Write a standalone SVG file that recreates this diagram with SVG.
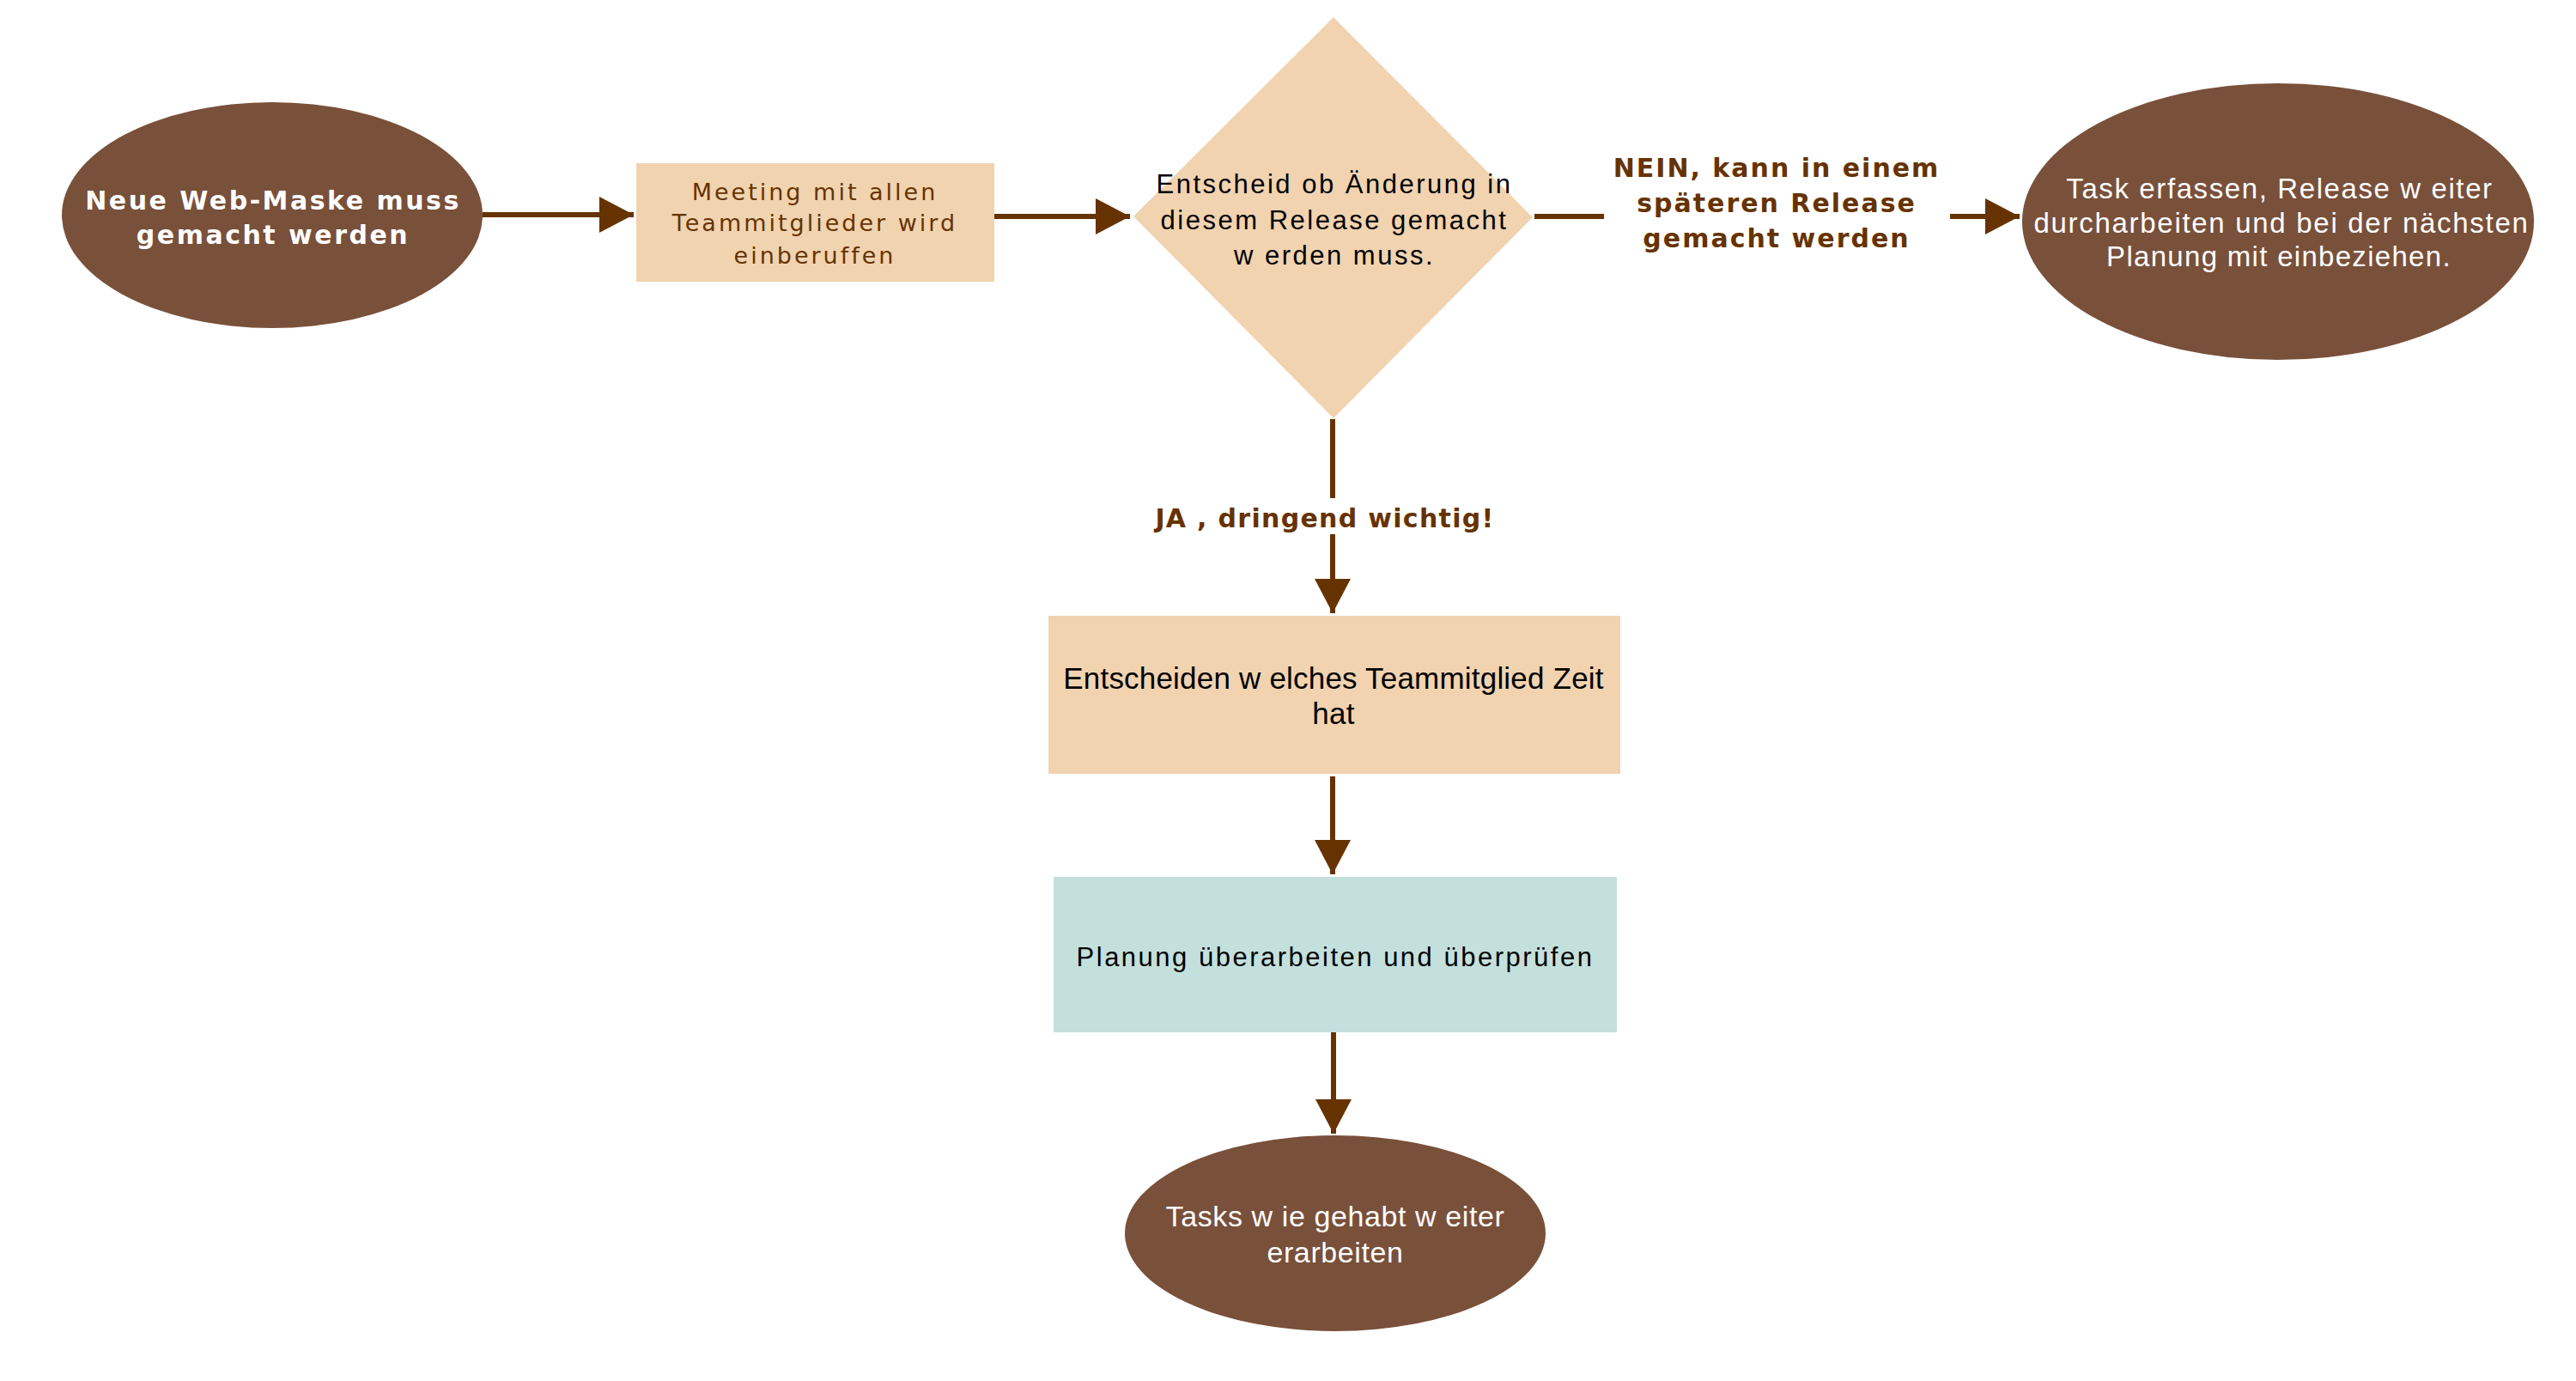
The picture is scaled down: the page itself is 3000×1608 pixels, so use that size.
<svg xmlns="http://www.w3.org/2000/svg" width="3000" height="1608" viewBox="0 0 3000 1608">
<style>
.term{fill:#79503A;}
.proc{fill:#F1D3B0;}
.plan{fill:#C4E0DC;}
.conn{stroke:#663300;stroke-width:6;fill:none;}
.lbl{font-family:"DejaVu Sans",Verdana,sans-serif;font-weight:bold;font-size:30px;fill:#663300;text-anchor:middle;letter-spacing:2px;}
.wb{font-family:"DejaVu Sans",Verdana,sans-serif;font-weight:bold;font-size:30px;fill:#FFFFFF;text-anchor:middle;letter-spacing:2.5px;}
.ar{font-family:"Liberation Sans",Arial,sans-serif;text-anchor:middle;}
</style>
<defs>
<marker id="ah" markerUnits="userSpaceOnUse" markerWidth="40" markerHeight="42" refX="40" refY="21" orient="auto">
<path d="M0,0 L40,21 L0,42 Z" fill="#663300"/>
</marker>
</defs>
<rect x="0" y="0" width="3000" height="1608" fill="#FFFFFF"/>
<g id="connectors">
<path class="conn" d="M562,250 H738" marker-end="url(#ah)"/>
<path class="conn" d="M1158,252 H1316" marker-end="url(#ah)"/>
<path class="conn" d="M1787,252 H1868 M2271,252 H2352" marker-end="url(#ah)"/>
<path class="conn" d="M1552,488 V580 M1552,622 V714" marker-end="url(#ah)"/>
<path class="conn" d="M1552,904 V1018" marker-end="url(#ah)"/>
<path class="conn" d="M1553,1202 V1320" marker-end="url(#ah)"/>
<text class="lbl" x="2069" y="206">NEIN, kann in einem</text>
<text class="lbl" x="2069" y="247">späteren Release</text>
<text class="lbl" x="2069" y="288">gemacht werden</text>
<text class="lbl" x="1543" y="614" style="letter-spacing:1.3px">JA , dringend wichtig!</text>
</g>
<g id="start">
<ellipse class="term" cx="317" cy="250.5" rx="245" ry="131.5"/>
<text class="wb" x="318" y="244">Neue Web-Maske muss</text>
<text class="wb" x="318" y="284">gemacht werden</text>
</g>
<g id="meeting">
<rect class="proc" x="741" y="190" width="417" height="138"/>
<text x="949" y="233" style="font-family:'DejaVu Sans',Verdana,sans-serif;font-size:27px;fill:#663300;text-anchor:middle;letter-spacing:3px">Meeting mit allen</text>
<text x="949" y="269" style="font-family:'DejaVu Sans',Verdana,sans-serif;font-size:27px;fill:#663300;text-anchor:middle;letter-spacing:3px">Teammitglieder wird</text>
<text x="949" y="307" style="font-family:'DejaVu Sans',Verdana,sans-serif;font-size:27px;fill:#663300;text-anchor:middle;letter-spacing:3px">einberuffen</text>
</g>
<g id="decision">
<polygon class="proc" points="1553,20 1785,253 1553,487 1320,252"/>
<text class="ar" x="1554" y="225" style="font-size:31px;letter-spacing:2.5px;fill:#000">Entscheid ob Änderung in</text>
<text class="ar" x="1554" y="267" style="font-size:31px;letter-spacing:2.5px;fill:#000">diesem Release gemacht</text>
<text class="ar" x="1554" y="308" style="font-size:31px;letter-spacing:2.5px;fill:#000">w erden muss.</text>
</g>
<g id="later">
<ellipse class="term" cx="2653" cy="258" rx="298" ry="161"/>
<text class="ar" x="2655" y="231" style="font-size:33px;letter-spacing:1.6px;fill:#FFF">Task erfassen, Release w eiter</text>
<text class="ar" x="2657" y="271" style="font-size:33px;letter-spacing:1.7px;fill:#FFF">durcharbeiten und bei der nächsten</text>
<text class="ar" x="2654" y="310" style="font-size:33px;letter-spacing:1.3px;fill:#FFF">Planung mit einbeziehen.</text>
</g>
<g id="choose">
<rect class="proc" x="1221" y="717" width="666" height="184"/>
<text class="ar" x="1553" y="802" style="font-size:35px;letter-spacing:0.2px;fill:#000">Entscheiden w elches Teammitglied Zeit</text>
<text class="ar" x="1553" y="843" style="font-size:35px;letter-spacing:0.2px;fill:#000">hat</text>
</g>
<g id="planung">
<rect class="plan" x="1227" y="1021" width="656" height="181"/>
<text class="ar" x="1555" y="1125" style="font-size:31px;letter-spacing:2.5px;fill:#000">Planung überarbeiten und überprüfen</text>
</g>
<g id="end">
<ellipse class="term" cx="1555" cy="1436" rx="245" ry="114"/>
<text class="ar" x="1555" y="1428" style="font-size:34px;letter-spacing:0.6px;fill:#FFF">Tasks w ie gehabt w eiter</text>
<text class="ar" x="1555" y="1470" style="font-size:34px;letter-spacing:0.6px;fill:#FFF">erarbeiten</text>
</g>
</svg>
